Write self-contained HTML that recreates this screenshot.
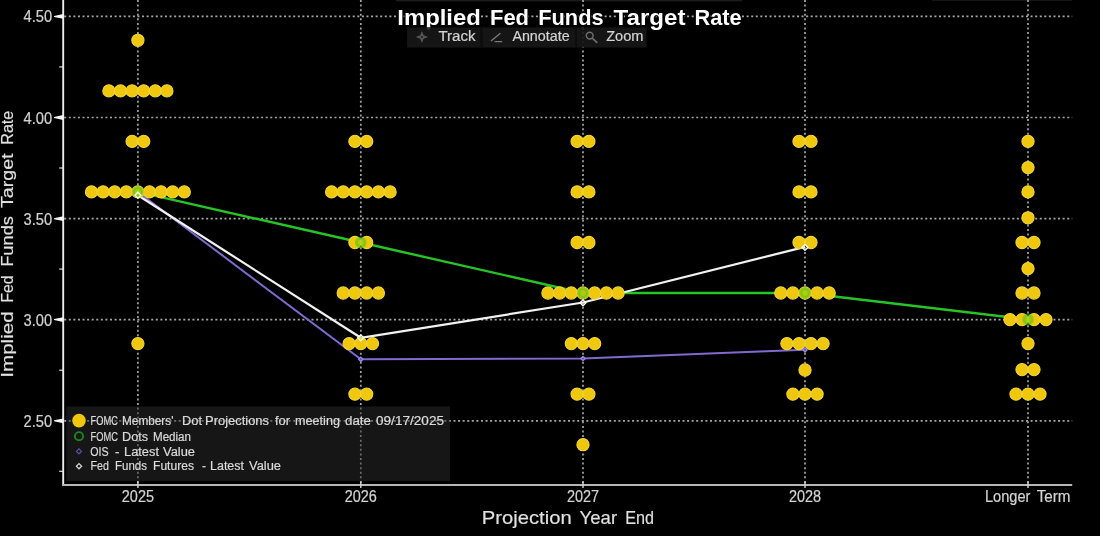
<!DOCTYPE html>
<html>
<head>
<meta charset="utf-8">
<title>Implied Fed Funds Target Rate</title>
<style>
html,body{margin:0;padding:0;background:#000;}
body{width:1100px;height:536px;overflow:hidden;font-family:"Liberation Sans",sans-serif;}
svg{display:block;}
svg text{font-family:"Liberation Sans",sans-serif;}
svg .t text{stroke:#d0d0d0;stroke-width:0.2px;}
</style>
</head>
<body>
<svg width="1100" height="536" viewBox="0 0 1100 536">
<defs><filter id="soft" x="-5%" y="-5%" width="110%" height="110%"><feGaussianBlur stdDeviation="0.55"/></filter></defs>
<rect x="0" y="0" width="1100" height="536" fill="#000"/>
<g filter="url(#soft)">
<rect x="396" y="0" width="346" height="1.3" fill="#1c1c1c"/>
<rect x="932" y="0" width="140" height="1.3" fill="#131313"/>
<rect x="66.4" y="406.4" width="383.8" height="74.6" fill="#161616"/>
<g stroke="#a6a6a6" stroke-width="1.7" stroke-dasharray="2.0 2.58" fill="none">
<line x1="64.2" y1="16.4" x2="1072.2" y2="16.4"/>
<line x1="64.2" y1="117.5" x2="1072.2" y2="117.5"/>
<line x1="64.2" y1="218.7" x2="1072.2" y2="218.7"/>
<line x1="64.2" y1="319.6" x2="1072.2" y2="319.6"/>
<line x1="64.2" y1="420.8" x2="1072.2" y2="420.8"/>
<line x1="137.9" y1="0" x2="137.9" y2="485.0"/>
<line x1="360.8" y1="0" x2="360.8" y2="485.0"/>
<line x1="583.0" y1="0" x2="583.0" y2="485.0"/>
<line x1="805.0" y1="0" x2="805.0" y2="485.0"/>
<line x1="1028.0" y1="0" x2="1028.0" y2="485.0"/>
</g>
<rect x="66.4" y="406.4" width="383.8" height="74.6" fill="#161616" fill-opacity="0.4"/>
<polyline points="137.9,191.9 360.8,242.5 583.0,293.0 805.0,293.0 1028.0,319.5" fill="none" stroke="#26c426" stroke-width="2.4" stroke-linejoin="round"/>
<polyline points="137.9,192.0 360.8,359.3 583.0,358.5 805.0,349.8" fill="none" stroke="#8169cf" stroke-width="2.0" stroke-linejoin="round"/>
<polyline points="137.9,195.2 360.8,337.8 583.0,302.5 805.0,246.9" fill="none" stroke="#f2f2f2" stroke-width="2.2" stroke-linejoin="round"/>
<g fill="#efc70a" stroke="#f3d63c" stroke-width="1.1">
<circle cx="137.9" cy="40.3" r="6.1"/>
<circle cx="108.9" cy="90.9" r="6.1"/>
<circle cx="120.5" cy="90.9" r="6.1"/>
<circle cx="132.1" cy="90.9" r="6.1"/>
<circle cx="143.7" cy="90.9" r="6.1"/>
<circle cx="155.3" cy="90.9" r="6.1"/>
<circle cx="166.9" cy="90.9" r="6.1"/>
<circle cx="132.1" cy="141.4" r="6.1"/>
<circle cx="143.7" cy="141.4" r="6.1"/>
<circle cx="91.5" cy="191.9" r="6.1"/>
<circle cx="103.1" cy="191.9" r="6.1"/>
<circle cx="114.7" cy="191.9" r="6.1"/>
<circle cx="126.3" cy="191.9" r="6.1"/>
<circle cx="137.9" cy="191.9" r="6.1"/>
<circle cx="149.5" cy="191.9" r="6.1"/>
<circle cx="161.1" cy="191.9" r="6.1"/>
<circle cx="172.7" cy="191.9" r="6.1"/>
<circle cx="184.3" cy="191.9" r="6.1"/>
<circle cx="137.9" cy="343.6" r="6.1"/>
<circle cx="354.9" cy="141.4" r="6.1"/>
<circle cx="366.7" cy="141.4" r="6.1"/>
<circle cx="331.6" cy="191.9" r="6.1"/>
<circle cx="343.2" cy="191.9" r="6.1"/>
<circle cx="354.9" cy="191.9" r="6.1"/>
<circle cx="366.7" cy="191.9" r="6.1"/>
<circle cx="378.4" cy="191.9" r="6.1"/>
<circle cx="390.1" cy="191.9" r="6.1"/>
<circle cx="354.9" cy="242.5" r="6.1"/>
<circle cx="366.7" cy="242.5" r="6.1"/>
<circle cx="343.2" cy="293.0" r="6.1"/>
<circle cx="354.9" cy="293.0" r="6.1"/>
<circle cx="366.7" cy="293.0" r="6.1"/>
<circle cx="378.4" cy="293.0" r="6.1"/>
<circle cx="349.1" cy="343.6" r="6.1"/>
<circle cx="360.8" cy="343.6" r="6.1"/>
<circle cx="372.5" cy="343.6" r="6.1"/>
<circle cx="354.9" cy="394.1" r="6.1"/>
<circle cx="366.7" cy="394.1" r="6.1"/>
<circle cx="577.1" cy="141.4" r="6.1"/>
<circle cx="588.9" cy="141.4" r="6.1"/>
<circle cx="577.1" cy="191.9" r="6.1"/>
<circle cx="588.9" cy="191.9" r="6.1"/>
<circle cx="577.1" cy="242.5" r="6.1"/>
<circle cx="588.9" cy="242.5" r="6.1"/>
<circle cx="547.9" cy="293.0" r="6.1"/>
<circle cx="559.6" cy="293.0" r="6.1"/>
<circle cx="571.3" cy="293.0" r="6.1"/>
<circle cx="583.0" cy="293.0" r="6.1"/>
<circle cx="594.7" cy="293.0" r="6.1"/>
<circle cx="606.4" cy="293.0" r="6.1"/>
<circle cx="618.1" cy="293.0" r="6.1"/>
<circle cx="571.3" cy="343.6" r="6.1"/>
<circle cx="583.0" cy="343.6" r="6.1"/>
<circle cx="594.7" cy="343.6" r="6.1"/>
<circle cx="577.1" cy="394.1" r="6.1"/>
<circle cx="588.9" cy="394.1" r="6.1"/>
<circle cx="583.0" cy="444.7" r="6.1"/>
<circle cx="799.0" cy="141.4" r="6.1"/>
<circle cx="811.0" cy="141.4" r="6.1"/>
<circle cx="799.0" cy="191.9" r="6.1"/>
<circle cx="811.0" cy="191.9" r="6.1"/>
<circle cx="799.0" cy="242.5" r="6.1"/>
<circle cx="811.0" cy="242.5" r="6.1"/>
<circle cx="780.8" cy="293.0" r="6.1"/>
<circle cx="792.9" cy="293.0" r="6.1"/>
<circle cx="805.0" cy="293.0" r="6.1"/>
<circle cx="817.1" cy="293.0" r="6.1"/>
<circle cx="829.2" cy="293.0" r="6.1"/>
<circle cx="786.9" cy="343.6" r="6.1"/>
<circle cx="799.0" cy="343.6" r="6.1"/>
<circle cx="811.0" cy="343.6" r="6.1"/>
<circle cx="823.1" cy="343.6" r="6.1"/>
<circle cx="805.0" cy="370.0" r="6.1"/>
<circle cx="792.9" cy="394.1" r="6.1"/>
<circle cx="805.0" cy="394.1" r="6.1"/>
<circle cx="817.1" cy="394.1" r="6.1"/>
<circle cx="1028.0" cy="141.4" r="6.1"/>
<circle cx="1028.0" cy="167.6" r="6.1"/>
<circle cx="1028.0" cy="191.9" r="6.1"/>
<circle cx="1028.0" cy="217.8" r="6.1"/>
<circle cx="1022.0" cy="242.5" r="6.1"/>
<circle cx="1034.0" cy="242.5" r="6.1"/>
<circle cx="1028.0" cy="268.6" r="6.1"/>
<circle cx="1022.0" cy="293.0" r="6.1"/>
<circle cx="1034.0" cy="293.0" r="6.1"/>
<circle cx="1010.0" cy="319.6" r="6.1"/>
<circle cx="1022.0" cy="319.6" r="6.1"/>
<circle cx="1034.0" cy="319.6" r="6.1"/>
<circle cx="1046.0" cy="319.6" r="6.1"/>
<circle cx="1028.0" cy="343.6" r="6.1"/>
<circle cx="1022.0" cy="369.6" r="6.1"/>
<circle cx="1034.0" cy="369.6" r="6.1"/>
<circle cx="1016.0" cy="394.1" r="6.1"/>
<circle cx="1028.0" cy="394.1" r="6.1"/>
<circle cx="1040.0" cy="394.1" r="6.1"/>
</g>
<g fill="#52cc14" fill-opacity="0.38" stroke="#3fc81a" stroke-opacity="0.5" stroke-width="3.0">
<circle cx="137.9" cy="191.9" r="4.4"/>
<circle cx="360.8" cy="242.5" r="4.4"/>
<circle cx="583.0" cy="293.0" r="4.4"/>
<circle cx="805.0" cy="293.0" r="4.4"/>
<circle cx="1028.0" cy="319.5" r="4.4"/>
</g>
<path d="M358.6,359.3 L360.8,357.1 L363.0,359.3 L360.8,361.5 Z" fill="#6a56b4" stroke="#9a84e2" stroke-width="1.3"/>
<path d="M580.8,358.5 L583.0,356.3 L585.2,358.5 L583.0,360.7 Z" fill="#6a56b4" stroke="#9a84e2" stroke-width="1.3"/>
<path d="M802.8,349.8 L805.0,347.6 L807.2,349.8 L805.0,352.0 Z" fill="#6a56b4" stroke="#9a84e2" stroke-width="1.3"/>
<path d="M134.9,195.2 L137.9,192.2 L140.9,195.2 L137.9,198.2 Z" fill="none" stroke="#ffffff" stroke-width="1.3"/>
<path d="M357.8,337.8 L360.8,334.8 L363.8,337.8 L360.8,340.8 Z" fill="none" stroke="#ffffff" stroke-width="1.3"/>
<path d="M580.0,302.8 L583.0,299.8 L586.0,302.8 L583.0,305.8 Z" fill="none" stroke="#ffffff" stroke-width="1.3"/>
<path d="M802.0,247.4 L805.0,244.4 L808.0,247.4 L805.0,250.4 Z" fill="none" stroke="#ffffff" stroke-width="1.3"/>
<line x1="63.2" y1="0" x2="63.2" y2="486.0" stroke="#ededed" stroke-width="1.9"/>
<line x1="62.2" y1="485.0" x2="1072.2" y2="485.0" stroke="#b6b6b6" stroke-width="2"/>
<line x1="137.9" y1="481.5" x2="137.9" y2="488" stroke="#d8d8d8" stroke-width="1.4"/>
<line x1="360.8" y1="481.5" x2="360.8" y2="488" stroke="#d8d8d8" stroke-width="1.4"/>
<line x1="583.0" y1="481.5" x2="583.0" y2="488" stroke="#d8d8d8" stroke-width="1.4"/>
<line x1="805.0" y1="481.5" x2="805.0" y2="488" stroke="#d8d8d8" stroke-width="1.4"/>
<line x1="1028.0" y1="481.5" x2="1028.0" y2="488" stroke="#d8d8d8" stroke-width="1.4"/>
<path d="M63.2,13.999999999999998 L54.0,15.899999999999999 L54.0,16.9 L63.2,18.799999999999997 Z" fill="#f4f4f4"/>
<path d="M63.2,115.1 L54.0,117.0 L54.0,118.0 L63.2,119.9 Z" fill="#f4f4f4"/>
<path d="M63.2,216.29999999999998 L54.0,218.2 L54.0,219.2 L63.2,221.1 Z" fill="#f4f4f4"/>
<path d="M63.2,317.20000000000005 L54.0,319.1 L54.0,320.1 L63.2,322.0 Z" fill="#f4f4f4"/>
<path d="M63.2,418.40000000000003 L54.0,420.3 L54.0,421.3 L63.2,423.2 Z" fill="#f4f4f4"/>
<line x1="59.2" y1="66.9" x2="63.2" y2="66.9" stroke="#e0e0e0" stroke-width="1.2"/>
<line x1="59.2" y1="168.0" x2="63.2" y2="168.0" stroke="#e0e0e0" stroke-width="1.2"/>
<line x1="59.2" y1="269.1" x2="63.2" y2="269.1" stroke="#e0e0e0" stroke-width="1.2"/>
<line x1="59.2" y1="370.2" x2="63.2" y2="370.2" stroke="#e0e0e0" stroke-width="1.2"/>
<line x1="59.2" y1="471.3" x2="63.2" y2="471.3" stroke="#e0e0e0" stroke-width="1.2"/>
<g class="t">
<text x="23.6" y="22" font-size="15.6" fill="#d2d2d2" textLength="28.6" lengthAdjust="spacingAndGlyphs">4.50</text>
<text x="23.6" y="124" font-size="15.6" fill="#d2d2d2" textLength="28.6" lengthAdjust="spacingAndGlyphs">4.00</text>
<text x="23.6" y="225" font-size="15.6" fill="#d2d2d2" textLength="28.6" lengthAdjust="spacingAndGlyphs">3.50</text>
<text x="23.6" y="326" font-size="15.6" fill="#d2d2d2" textLength="28.6" lengthAdjust="spacingAndGlyphs">3.00</text>
<text x="23.6" y="427" font-size="15.6" fill="#d2d2d2" textLength="28.6" lengthAdjust="spacingAndGlyphs">2.50</text>
<text x="121.8" y="501.8" font-size="15.6" fill="#d4d4d4" textLength="32.2" lengthAdjust="spacingAndGlyphs">2025</text>
<text x="344.7" y="501.8" font-size="15.6" fill="#d4d4d4" textLength="32.2" lengthAdjust="spacingAndGlyphs">2026</text>
<text x="566.9" y="501.8" font-size="15.6" fill="#d4d4d4" textLength="32.2" lengthAdjust="spacingAndGlyphs">2027</text>
<text x="788.9" y="501.8" font-size="15.6" fill="#d4d4d4" textLength="32.2" lengthAdjust="spacingAndGlyphs">2028</text>
<text x="984.9" y="501.8" font-size="15.6" fill="#d4d4d4" textLength="45.5" lengthAdjust="spacingAndGlyphs">Longer</text>
<text x="1036.7" y="501.8" font-size="15.6" fill="#d4d4d4" textLength="33.8" lengthAdjust="spacingAndGlyphs">Term</text>
<text x="481.8" y="524.4" font-size="19" fill="#e2e2e2" textLength="89.9" lengthAdjust="spacingAndGlyphs">Projection</text>
<text x="579.6" y="524.4" font-size="19" fill="#e2e2e2" textLength="37.5" lengthAdjust="spacingAndGlyphs">Year</text>
<text x="625.2" y="524.4" font-size="19" fill="#e2e2e2" textLength="28.8" lengthAdjust="spacingAndGlyphs">End</text>
<g transform="translate(12.6,378) rotate(-90)">
<text x="0.3" y="0" font-size="16.6" fill="#e2e2e2" textLength="66.3" lengthAdjust="spacingAndGlyphs">Implied</text>
<text x="75.4" y="0" font-size="16.6" fill="#e2e2e2" textLength="27.2" lengthAdjust="spacingAndGlyphs">Fed</text>
<text x="111.2" y="0" font-size="16.6" fill="#e2e2e2" textLength="50.8" lengthAdjust="spacingAndGlyphs">Funds</text>
<text x="169.9" y="0" font-size="16.6" fill="#e2e2e2" textLength="54.7" lengthAdjust="spacingAndGlyphs">Target</text>
<text x="233.3" y="0" font-size="16.6" fill="#e2e2e2" textLength="33.9" lengthAdjust="spacingAndGlyphs">Rate</text>
</g>
</g>
<text x="397.3" y="25" font-size="22" fill="#ffffff" textLength="83.5" lengthAdjust="spacingAndGlyphs" font-weight="bold" stroke="#000" stroke-width="2.5" paint-order="stroke">Implied</text>
<text x="490.0" y="25" font-size="22" fill="#ffffff" textLength="39.0" lengthAdjust="spacingAndGlyphs" font-weight="bold" stroke="#000" stroke-width="2.5" paint-order="stroke">Fed</text>
<text x="538.2" y="25" font-size="22" fill="#ffffff" textLength="65.4" lengthAdjust="spacingAndGlyphs" font-weight="bold" stroke="#000" stroke-width="2.5" paint-order="stroke">Funds</text>
<text x="613.6" y="25" font-size="22" fill="#ffffff" textLength="71.9" lengthAdjust="spacingAndGlyphs" font-weight="bold" stroke="#000" stroke-width="2.5" paint-order="stroke">Target</text>
<text x="694.5" y="25" font-size="22" fill="#ffffff" textLength="47.1" lengthAdjust="spacingAndGlyphs" font-weight="bold" stroke="#000" stroke-width="2.5" paint-order="stroke">Rate</text>
<rect x="407.1" y="27.2" width="239.4" height="20.4" fill="#171717" fill-opacity="0.92"/>
<rect x="480.6" y="27.2" width="2" height="20.4" fill="#0a0a0a"/>
<rect x="574.8" y="27.2" width="2" height="20.4" fill="#0a0a0a"/>
<path d="M421.9,31 L423.6,35.3 L428.2,37 L423.6,38.7 L421.9,43 L420.2,38.7 L415.6,37 L420.2,35.3 Z" fill="#565656"/>
<circle cx="421.9" cy="37" r="1.1" fill="#1c1c1c"/>
<path d="M491,41 L500.4,33.3 M494.6,41.6 L502.2,41.6" stroke="#7a7a7a" stroke-width="1.4" fill="none"/>
<circle cx="589.7" cy="35.6" r="3.4" fill="none" stroke="#6e6e6e" stroke-width="1.5"/>
<path d="M592.3,38.2 L597.3,42.8" stroke="#6e6e6e" stroke-width="1.7" fill="none"/>
<g class="t">
<text x="438.4" y="41.4" font-size="14.0" fill="#d4d4d4" textLength="37.2" lengthAdjust="spacingAndGlyphs">Track</text>
<text x="512.4" y="41.4" font-size="14.0" fill="#d4d4d4" textLength="57.2" lengthAdjust="spacingAndGlyphs">Annotate</text>
<text x="606.2" y="41.4" font-size="14.0" fill="#d4d4d4" textLength="37.3" lengthAdjust="spacingAndGlyphs">Zoom</text>
<circle cx="79" cy="420.6" r="6.8" fill="#efc70a"/>
<circle cx="79" cy="436.2" r="4.1" fill="none" stroke="#1c861c" stroke-width="1.9"/>
<path d="M76.5,451.4 L79,448.9 L81.5,451.4 L79,453.9 Z" fill="none" stroke="#5e4ca8" stroke-width="1.3"/>
<path d="M76.4,466.2 L79,463.59999999999997 L81.6,466.2 L79,468.8 Z" fill="none" stroke="#d0d0d0" stroke-width="1.3"/>
<text x="90.6" y="424.9" font-size="12" fill="#dedede" textLength="27.4" lengthAdjust="spacingAndGlyphs">FOMC</text>
<text x="122.0" y="424.9" font-size="12" fill="#dedede" textLength="51.4" lengthAdjust="spacingAndGlyphs">Members'</text>
<text x="182.0" y="424.9" font-size="12" fill="#dedede" textLength="20.0" lengthAdjust="spacingAndGlyphs">Dot</text>
<text x="205.0" y="424.9" font-size="12" fill="#dedede" textLength="64.0" lengthAdjust="spacingAndGlyphs">Projections</text>
<text x="275.0" y="424.9" font-size="12" fill="#dedede" textLength="15.0" lengthAdjust="spacingAndGlyphs">for</text>
<text x="295.0" y="424.9" font-size="12" fill="#dedede" textLength="45.0" lengthAdjust="spacingAndGlyphs">meeting</text>
<text x="345.0" y="424.9" font-size="12" fill="#dedede" textLength="26.0" lengthAdjust="spacingAndGlyphs">date</text>
<text x="376.0" y="424.9" font-size="12" fill="#dedede" textLength="68.0" lengthAdjust="spacingAndGlyphs">09/17/2025</text>
<text x="90.6" y="440.5" font-size="12" fill="#dedede" textLength="27.4" lengthAdjust="spacingAndGlyphs">FOMC</text>
<text x="122.0" y="440.5" font-size="12" fill="#dedede" textLength="26.0" lengthAdjust="spacingAndGlyphs">Dots</text>
<text x="153.0" y="440.5" font-size="12" fill="#dedede" textLength="38.0" lengthAdjust="spacingAndGlyphs">Median</text>
<text x="90.2" y="455.6" font-size="12" fill="#dedede" textLength="18.4" lengthAdjust="spacingAndGlyphs">OIS</text>
<text x="115.0" y="455.6" font-size="12" fill="#dedede" textLength="4.4" lengthAdjust="spacingAndGlyphs">-</text>
<text x="124.0" y="455.6" font-size="12" fill="#dedede" textLength="35.0" lengthAdjust="spacingAndGlyphs">Latest</text>
<text x="163.0" y="455.6" font-size="12" fill="#dedede" textLength="32.0" lengthAdjust="spacingAndGlyphs">Value</text>
<text x="90.6" y="470.4" font-size="12" fill="#dedede" textLength="18.4" lengthAdjust="spacingAndGlyphs">Fed</text>
<text x="115.0" y="470.4" font-size="12" fill="#dedede" textLength="32.0" lengthAdjust="spacingAndGlyphs">Funds</text>
<text x="153.0" y="470.4" font-size="12" fill="#dedede" textLength="41.0" lengthAdjust="spacingAndGlyphs">Futures</text>
<text x="202.0" y="470.4" font-size="12" fill="#dedede" textLength="4.0" lengthAdjust="spacingAndGlyphs">-</text>
<text x="210.0" y="470.4" font-size="12" fill="#dedede" textLength="34.0" lengthAdjust="spacingAndGlyphs">Latest</text>
<text x="249.0" y="470.4" font-size="12" fill="#dedede" textLength="32.0" lengthAdjust="spacingAndGlyphs">Value</text>
</g>
</g>
</svg>
</body>
</html>
